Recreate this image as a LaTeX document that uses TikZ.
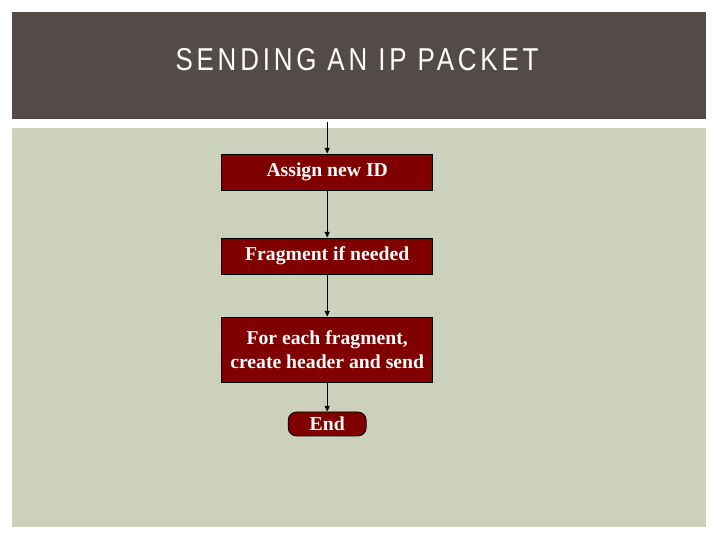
\documentclass[tikz,border=0pt]{standalone}
\usepackage{fontspec}
\setmainfont{Liberation Serif}
\newfontfamily\titlefont[LetterSpace=12, FakeStretch=0.82]{Liberation Sans}
\usepackage{tikz}
\usetikzlibrary{shapes.geometric, arrows.meta, positioning, calc}
\definecolor{hdrbrown}{RGB}{84,75,72}
\definecolor{bodysage}{RGB}{204,209,188}
\definecolor{boxred}{RGB}{128,0,0}
\tikzset{
  stepbox/.style={rectangle, draw=black, fill=boxred, text=white,
    minimum width=5.275cm, align=center, font=\bfseries\fontsize{14}{17}\selectfont,
    line width=0.6pt, inner sep=2pt},
  endbox/.style={rectangle, draw=black, fill=boxred, text=white,
    minimum width=1.95cm, minimum height=0.6cm, rounded corners=6pt,
    font=\bfseries\fontsize{14}{17}\selectfont, line width=0.6pt, inner sep=1pt},
  arrow/.style={-{Triangle[length=4pt, width=3.5pt]}, line width=0.9pt, color=black}
}
\begin{document}
\begin{tikzpicture}
  \useasboundingbox (0,0) rectangle (18,13.5);
  \fill[white] (0,0) rectangle (18,13.5);

  % Header band and body panel
  \fill[hdrbrown] (0.3,13.2) rectangle (17.65,10.525);
  \fill[bodysage] (0.3,10.3) rectangle (17.65,0.325);
  \node[text=white, font=\titlefont\fontsize{22.5}{24}\selectfont] (title) at (8.925,12.0) {SENDING AN IP PACKET};

  % Flow steps
  \coordinate (start) at (8.18,10.45);
  \node[stepbox, minimum height=0.9cm] (S1) at (8.18,9.2) {Assign new ID};
  \node[stepbox, minimum height=0.9cm] (S2) at (8.18,7.1) {Fragment if needed};
  \node[stepbox, minimum height=1.625cm] (S3) at (8.18,4.7625) {For each fragment,\\create header and send};
  \node[endbox] (E) at (8.18,2.9) {End};

  % Connectors
  \draw[arrow] (start) -- (S1);
  \draw[arrow] (S1) -- (S2);
  \draw[arrow] (S2) -- (S3);
  \draw[arrow] (S3) -- (E);
\end{tikzpicture}
\end{document}
